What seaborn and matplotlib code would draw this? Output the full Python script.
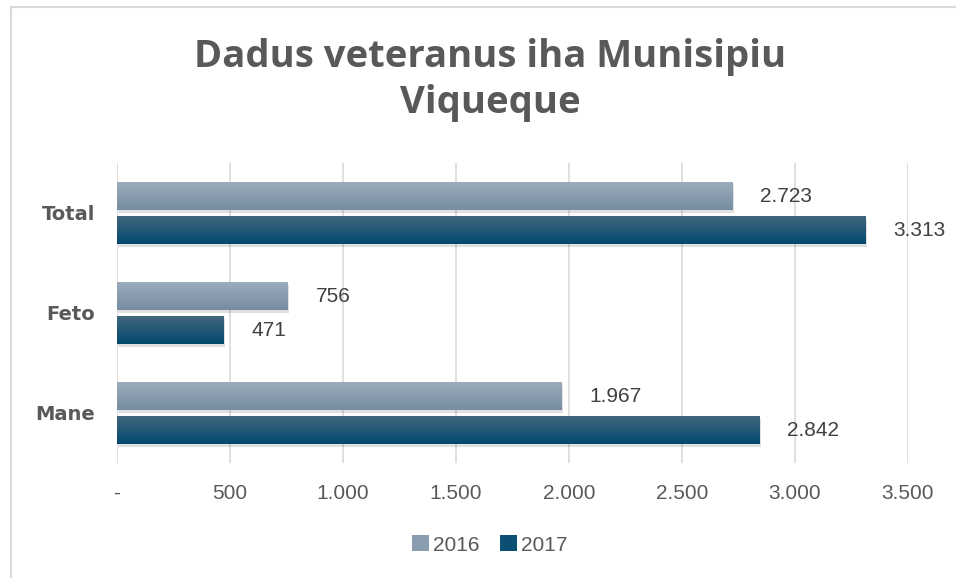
import matplotlib.pyplot as plt
import numpy as np
import pandas as pd
import seaborn as sns
from matplotlib.patches import Rectangle

# Data
categories = ['Total', 'Feto', 'Mane']
values_2016 = [2723, 756, 1967]
values_2017 = [3313, 471, 2842]
years = ['2016', '2017']
x_ticks = [0, 500, 1000, 1500, 2000, 2500, 3000, 3500]

df = pd.DataFrame({
    'kategoria': categories * 2,
    'tinan': [years[0]] * 3 + [years[1]] * 3,
    'valor': values_2016 + values_2017,
})

# top / bottom colours of the bar gradients
grad = {'2016': ('#9cadbc', '#788da2'), '2017': ('#43687f', '#03496d')}
palette = {'2016': '#8a9db0', '2017': '#0b4f72'}


def fmt(v):
    v = int(round(v))
    return '-' if v == 0 else f'{v:,}'.replace(',', '.')


sns.set_theme(style='white')
plt.rcParams['font.family'] = ['Liberation Sans', 'DejaVu Sans']

fig = plt.figure(figsize=(9.56, 5.78), dpi=100)
ax = fig.add_axes([117 / 956, 1 - 463 / 578, (908 - 117) / 956, 300 / 578])

sns.barplot(data=df, y='kategoria', x='valor', hue='tinan', order=categories,
            hue_order=years, palette=palette, orient='h', width=0.68, gap=0.15,
            ax=ax, legend=True, saturation=1, linewidth=0)

# gradient fill + soft shadow on each bar
for cont, yr in zip(ax.containers, years):
    top, bot = grad[yr]
    cmap = plt.matplotlib.colors.LinearSegmentedColormap.from_list(yr, [top, bot])
    for bar in cont:
        x0, y0 = bar.get_x(), bar.get_y()
        w, h = bar.get_width(), bar.get_height()
        shadow = Rectangle((x0 + 6, y0 + 0.03), w, h, facecolor='#000000',
                           alpha=0.12, edgecolor='none', zorder=1.5)
        ax.add_patch(shadow)
        img = ax.imshow(np.linspace(0, 1, 50).reshape(-1, 1), cmap=cmap,
                        extent=(x0, x0 + w, y0 + h, y0), origin='upper',
                        aspect='auto', zorder=2.5)
        img.set_clip_path(bar)
        bar.set_zorder(2)
    labels = [fmt(v) for v in cont.datavalues]
    ax.bar_label(cont, labels=labels, padding=20, fontsize=15, color='#404040')

ax.set_xlim(0, 3500)
ax.set_ylim(2.5, -0.5)

ax.set_xticks(x_ticks)
ax.set_xticklabels([fmt(t) for t in x_ticks], fontsize=15, color='#595959')
ax.tick_params(axis='x', length=0, pad=15)
ax.tick_params(axis='y', length=0, pad=16)
for lab in ax.get_yticklabels():
    lab.set_fontsize(14)
    lab.set_fontweight('bold')
    lab.set_family('DejaVu Sans')
    lab.set_color('#595959')
ax.set_xlabel('')
ax.set_ylabel('')
ax.grid(axis='x', color='#d9d9d9', linewidth=1.2)
ax.set_axisbelow(True)
for s in ax.spines.values():
    s.set_visible(False)

leg = ax.legend(loc='center', bbox_to_anchor=(490 / 956, 1 - 545 / 578),
                bbox_transform=fig.transFigure, ncol=2,
                frameon=False, fontsize=15, handlelength=0.8, handleheight=0.8,
                handletextpad=0.2, columnspacing=1.0)
for t in leg.get_texts():
    t.set_color('#595959')

fig.text(490 / 956, 1 - 80 / 578, 'Dadus veteranus iha Munisipiu\nViqueque',
         ha='center', va='center', fontsize=27.5, fontweight='bold',
         family='Open Sans', color='#595959', linespacing=1.3)

# chart frame
fig.patches.append(Rectangle((11 / 956, -0.1), 1.2, 1 - 7 / 578 + 0.1,
                             transform=fig.transFigure, fill=False,
                             edgecolor='#d9d9d9', linewidth=1.5))

fig.savefig('out.png', dpi=100)
